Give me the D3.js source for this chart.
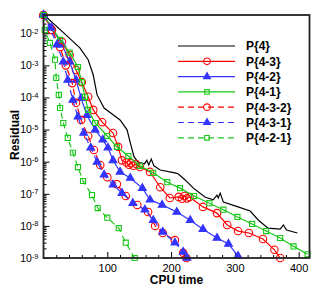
<!DOCTYPE html>
<html>
<head>
<meta charset="utf-8">
<script src="https://cdn.jsdelivr.net/npm/d3@7"></script>
<style>
body { margin: 0; background: #fff; }
text { font-family: "Liberation Sans", Arial, sans-serif; }
</style>
</head>
<body>
<svg id="chart" width="327" height="291"></svg>
<script>
// Series data (CPU time vs residual)
var seriesNames = ["P{4}", "P{4-3}", "P{4-2}", "P{4-1}", "P{4-3-2}", "P{4-3-1}", "P{4-2-1}"];

var p4Time = [1, 30, 57, 70, 78, 84, 95, 107, 120, 131, 137, 142, 148, 158, 162, 165, 169, 173, 183, 206, 211, 222, 235, 253, 266, 272, 274, 277, 282, 305, 324, 337, 352, 371, 376, 381, 398];
var p4Res = [3.7e-2, 1.1e-2, 3.5e-3, 1.5e-3, 5.0e-4, 1.2e-4, 4.7e-5, 3.1e-5, 2.0e-5, 9.8e-6, 3.3e-6, 1.4e-6, 9.8e-7, 8.5e-7, 1.1e-6, 7.9e-7, 1.2e-6, 7.4e-7, 5.5e-7, 4.5e-7, 4.2e-7, 2.7e-7, 1.5e-7, 7.9e-8, 6.5e-8, 9.1e-8, 7.4e-8, 1.05e-7, 5.5e-8, 3.9e-8, 2.9e-8, 1.5e-8, 8.5e-9, 7.9e-9, 1.07e-8, 7.4e-9, 6.0e-9];

var p43Time = [0, 13, 29, 41, 51, 60, 70, 78, 92, 109, 117, 123, 130, 134, 137, 141, 145, 151, 167, 183, 198, 212, 217, 221, 225, 229, 250, 272, 288, 305, 322, 344, 362, 371];
var p43Res = [3.7e-2, 1.26e-2, 5.4e-3, 2.1e-3, 7.2e-4, 3.0e-4, 1.05e-4, 4.1e-5, 1.7e-5, 7.8e-6, 2.9e-6, 1.1e-6, 9.5e-7, 8.0e-7, 9.0e-7, 7.5e-7, 8.5e-7, 6.8e-7, 4.8e-7, 1.6e-7, 7.4e-8, 8.0e-8, 7.0e-8, 8.5e-8, 7.2e-8, 7.9e-8, 3.9e-8, 2.5e-8, 1.07e-8, 6.9e-9, 6.0e-9, 3.9e-9, 1.8e-9, 1.0e-9];

var p42Time = [0, 13, 29, 41, 51, 59, 68, 81, 93, 101, 109, 120, 136, 155, 167, 186, 209, 230, 250, 272, 290, 305];
var p42Res = [3.7e-2, 1.48e-2, 4.4e-3, 1.3e-3, 3.5e-4, 9.5e-5, 2.8e-5, 9.8e-6, 4.8e-6, 2.7e-6, 1.1e-6, 4.8e-7, 3.1e-7, 1.5e-7, 6.5e-8, 4.5e-8, 2.7e-8, 1.5e-8, 7.9e-9, 4.2e-9, 2.75e-9, 1.15e-9];

var p41Time = [0, 26, 41, 54, 60, 65, 70, 81, 100, 115, 133, 151, 172, 194, 214, 236, 260, 282, 304, 327, 349, 371, 392, 414];
var p41Res = [3.7e-2, 6.2e-3, 2.5e-3, 8.9e-4, 3.0e-4, 1.05e-4, 4.1e-5, 1.6e-5, 6.3e-6, 2.9e-6, 1.5e-6, 7.4e-7, 4.5e-7, 2.3e-7, 1.5e-7, 8.5e-8, 5.1e-8, 3.2e-8, 1.9e-8, 1.15e-8, 6.9e-9, 4.2e-9, 2.3e-9, 1.3e-9];

var p432Time = [0, 13, 26, 35, 45, 51, 59, 70, 79, 89, 100, 115, 129, 147, 164, 175, 187, 206, 219, 224];
var p432Res = [3.7e-2, 1.26e-2, 3.7e-3, 1.0e-3, 2.8e-4, 6.8e-5, 2.0e-5, 6.3e-6, 2.3e-6, 7.9e-7, 3.3e-7, 2.0e-7, 8.5e-8, 4.5e-8, 2.7e-8, 1.0e-8, 6.0e-9, 3.6e-9, 1.45e-9, 1.0e-9];

var p431Time = [0, 10, 21, 31, 38, 46, 54, 63, 74, 84, 95, 109, 123, 140, 159, 172, 187, 206, 219, 225];
var p431Res = [3.7e-2, 1.48e-2, 4.4e-3, 1.3e-3, 3.5e-4, 8.3e-5, 2.5e-5, 7.8e-6, 2.7e-6, 9.8e-7, 3.9e-7, 1.9e-7, 1.05e-7, 5.1e-8, 3.2e-8, 1.5e-8, 6.5e-9, 3.0e-9, 1.55e-9, 1.0e-9];

var p421Time = [0, 2, 10, 18, 20, 24, 26, 31, 38, 46, 54, 62, 76, 85, 100, 118, 129, 143];
var p421Res = [3.7e-2, 1.26e-2, 5.0e-3, 1.5e-3, 4.1e-4, 1.2e-4, 4.7e-5, 1.6e-5, 5.5e-6, 1.9e-6, 6.8e-7, 2.5e-7, 9.1e-8, 3.6e-8, 1.8e-8, 8.5e-9, 3.0e-9, 1.0e-9];

var xMajorTicks = [100, 200, 300, 400];
var yMajorTicks = [1e-9, 1e-8, 1e-7, 1e-6, 1e-5, 1e-4, 1e-3, 1e-2];

// styles
var colors = ["#000", "#f00", "#3434ff", "#19c819", "#f00", "#3434ff", "#19c819"];
var dashes = [null, null, null, null, "6,4", "6,4", "6,4"];
var markers = [null, "circle", "triangle", "square", "circle", "triangle", "square"];

var allTimes = [p4Time, p43Time, p42Time, p41Time, p432Time, p431Time, p421Time];
var allRes = [p4Res, p43Res, p42Res, p41Res, p432Res, p431Res, p421Res];

var svg = d3.select("#chart");
var plotL = 43.5, plotR = 309.5, plotT = 15, plotB = 258;

var xScale = d3.scaleLinear().domain([0, 417]).range([plotL, plotR]);
var yScale = d3.scaleLog().domain([1e-9, 3.7e-2]).range([plotB, plotT]);

svg.append("defs").append("clipPath").attr("id", "plotClip")
	.append("rect").attr("x", plotL).attr("y", plotT).attr("width", plotR - plotL).attr("height", plotB - plotT);

// minor ticks
var xMinor = d3.range(20, 417, 20).filter(function(v){ return v % 100 != 0; });
svg.append("g").attr("transform", "translate(0," + plotB + ")")
	.call(d3.axisBottom(xScale).tickValues(xMinor).tickSizeInner(-3).tickSizeOuter(0).tickFormat(""));

var yMinor = [];
for (var e = -9; e <= -2; e++) {
	for (var k = 2; k <= 9; k++) {
		var v = k * Math.pow(10, e);
		if (v <= 3.7e-2) yMinor.push(v);
	}
}
svg.append("g").attr("transform", "translate(" + plotL + ",0)")
	.call(d3.axisLeft(yScale).tickValues(yMinor).tickSizeInner(-3).tickSizeOuter(0).tickFormat(""));

// major axes
var xAxisG = svg.append("g").attr("transform", "translate(0," + plotB + ")")
	.call(d3.axisBottom(xScale).tickValues(xMajorTicks).tickSizeInner(-6).tickSizeOuter(0).tickPadding(6));
xAxisG.selectAll("text").attr("font-size", "11px").attr("fill", "#000");

var yAxisG = svg.append("g").attr("transform", "translate(" + plotL + ",0)")
	.call(d3.axisLeft(yScale).tickValues(yMajorTicks).tickSizeInner(-6).tickSizeOuter(0).tickPadding(5).tickFormat(""));
yAxisG.selectAll("text").each(function(d){
	var t = d3.select(this).attr("font-size", "10.5px").attr("fill", "#000");
	t.text("10");
	t.append("tspan").attr("dy", "-0.45em").attr("font-size", "7.5px").text(Math.round(Math.log10(d)));
});

svg.selectAll(".domain").remove();
svg.selectAll(".tick line").attr("stroke", "#000").attr("stroke-width", 1);

// series lines
var line = d3.line()
	.x(function(d){ return xScale(d[0]); })
	.y(function(d){ return yScale(d[1]); });

var symbolTypes = { circle: d3.symbolCircle, triangle: d3.symbolTriangle, square: d3.symbolSquare };
var symbolSizes = { circle: 44, triangle: 26, square: 26 };

function drawMarker(g, type, color, px, py, scale) {
	var sym = d3.symbol().type(symbolTypes[type]).size(symbolSizes[type] * scale);
	g.append("path")
		.attr("d", sym())
		.attr("transform", "translate(" + px + "," + py + ")")
		.attr("fill", type == "triangle" ? color : "none")
		.attr("stroke", color)
		.attr("stroke-width", 1.1);
}

seriesNames.forEach(function(name, i){
	var pts = allTimes[i].map(function(t, j){ return [t, allRes[i][j]]; });
	var g = svg.append("g");
	g.append("path")
		.datum(pts)
		.attr("clip-path", "url(#plotClip)")
		.attr("d", line)
		.attr("fill", "none")
		.attr("stroke", colors[i])
		.attr("stroke-width", 1.2)
		.attr("stroke-dasharray", dashes[i]);
	if (markers[i]) {
		pts.forEach(function(p){
			drawMarker(g, markers[i], colors[i], xScale(p[0]), yScale(p[1]), 1);
		});
	}
});

// frame
svg.append("rect")
	.attr("x", plotL).attr("y", plotT)
	.attr("width", plotR - plotL).attr("height", plotB - plotT)
	.attr("fill", "none").attr("stroke", "#222").attr("stroke-width", 1.8);

// axis titles
svg.append("text").attr("x", 176.5).attr("y", 284)
	.attr("text-anchor", "middle").attr("font-size", "12px").attr("font-weight", "bold")
	.text("CPU time");
svg.append("text").attr("transform", "translate(19,135) rotate(-90)")
	.attr("text-anchor", "middle").attr("font-size", "12px").attr("font-weight", "bold")
	.text("Residual");

// legend
var legend = svg.append("g");
seriesNames.forEach(function(name, i){
	var ly = 46 + i * 15.3;
	legend.append("line")
		.attr("x1", 178).attr("x2", 235).attr("y1", ly).attr("y2", ly)
		.attr("stroke", colors[i]).attr("stroke-width", 1.2)
		.attr("stroke-dasharray", dashes[i]);
	if (markers[i]) drawMarker(legend, markers[i], colors[i], 207, ly, 0.8);
	legend.append("text").attr("x", 246).attr("y", ly + 4.3)
		.attr("font-size", "12px").attr("font-weight", "bold")
		.text(name);
});
</script>
</body>
</html>
